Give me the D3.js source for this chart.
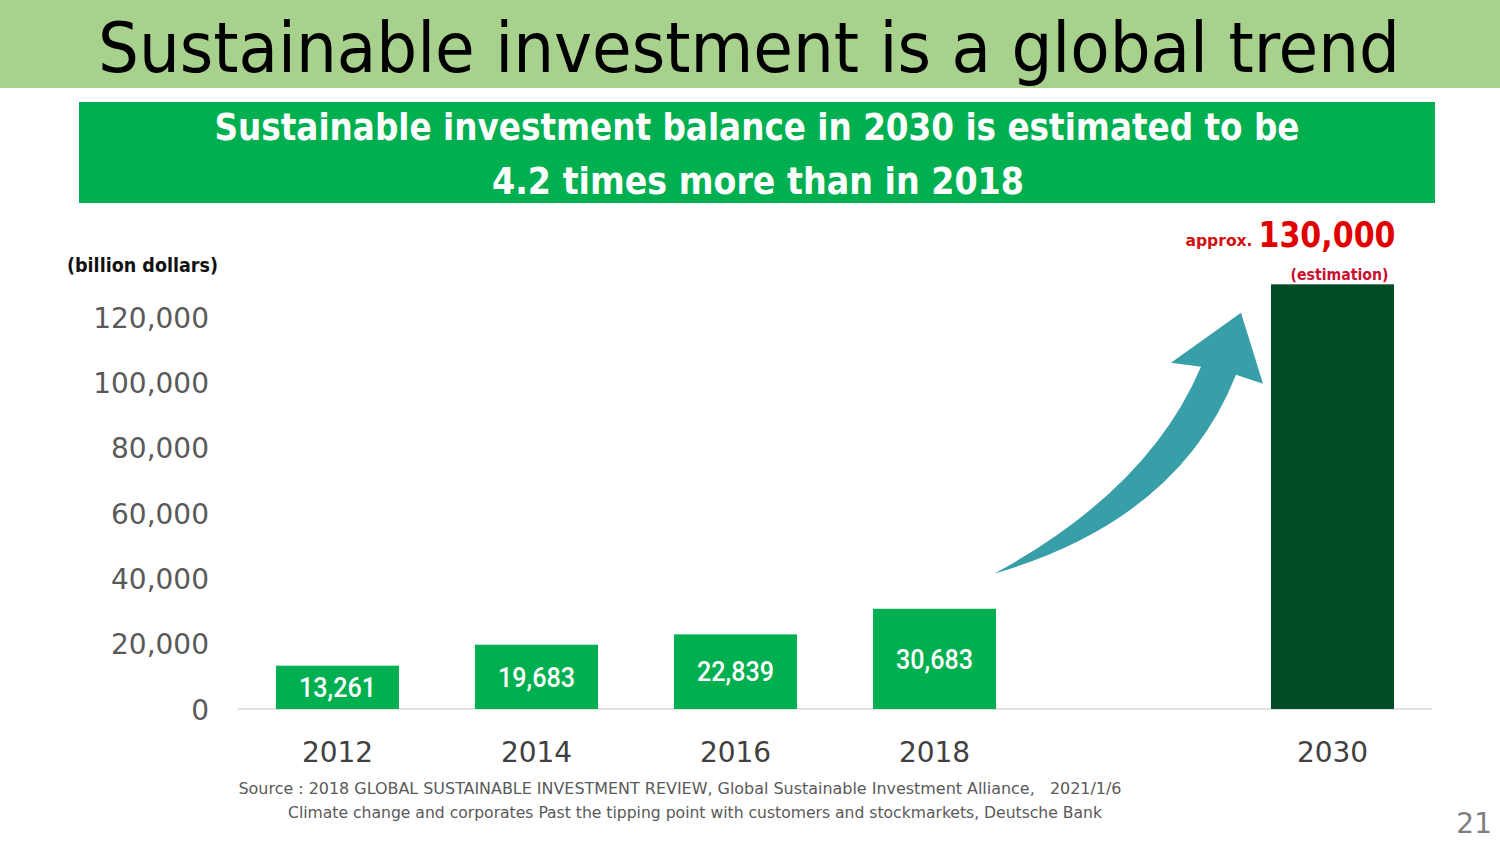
<!DOCTYPE html>
<html>
<head>
<meta charset="utf-8">
<script src="https://cdn.jsdelivr.net/npm/d3@7/dist/d3.min.js"></script>
<style>
  html, body { margin: 0; padding: 0; background: #fff; }
  svg { display: block; }
</style>
</head>
<body>
<svg id="chart" width="1500" height="844"></svg>
<script>
// datos del gráfico
var years = ["2012", "2014", "2016", "2018", "2030"];
var balances = [13261, 19683, 22839, 30683, 130000];
var estimated = [false, false, false, false, true];
var yTicks = [0, 20000, 40000, 60000, 80000, 100000, 120000];

var svg = d3.select("#chart");

// banda del título
svg.append("rect").attr("x", 0).attr("y", 0).attr("width", 1500).attr("height", 88).attr("fill", "#a9d18e");
svg.append("text")
  .attr("x", 749).attr("y", 72)
  .attr("text-anchor", "middle")
  .attr("font-family", "'Liberation Sans Narrow', 'DejaVu Sans Condensed', 'Noto Sans', sans-serif")
  .attr("font-size", 70)
  .attr("textLength", 1302).attr("lengthAdjust", "spacingAndGlyphs")
  .attr("fill", "#000")
  .text("Sustainable investment is a global trend");

// recuadro verde con el mensaje
svg.append("rect").attr("x", 79).attr("y", 102).attr("width", 1356).attr("height", 101).attr("fill", "#00b050");
svg.append("text")
  .attr("x", 757).attr("y", 140)
  .attr("text-anchor", "middle")
  .attr("font-family", "'Liberation Sans Narrow', 'DejaVu Sans Condensed', 'Noto Sans', sans-serif")
  .attr("font-weight", "bold").attr("font-size", 38)
  .attr("textLength", 1085).attr("lengthAdjust", "spacingAndGlyphs")
  .attr("fill", "#fff")
  .text("Sustainable investment balance in 2030 is estimated to be");
svg.append("text")
  .attr("x", 758).attr("y", 194)
  .attr("text-anchor", "middle")
  .attr("font-family", "'Liberation Sans Narrow', 'DejaVu Sans Condensed', 'Noto Sans', sans-serif")
  .attr("font-weight", "bold").attr("font-size", 38)
  .attr("textLength", 532).attr("lengthAdjust", "spacingAndGlyphs")
  .attr("fill", "#fff")
  .text("4.2 times more than in 2018");

// escalas
var slots = years.slice(0, 4).concat(["gap"]).concat(years.slice(4));
var x = d3.scaleBand().domain(slots).range([238, 1432]).paddingInner(0.382).paddingOuter(0.191);
var y = d3.scaleLinear().domain([0, 120000]).range([709, 317]);

// eje Y
var yAxis = svg.append("g")
  .attr("transform", "translate(238,0)")
  .call(d3.axisLeft(y).tickValues(yTicks).tickSize(0).tickPadding(29).tickFormat(d3.format(",")));
yAxis.select(".domain").remove();
yAxis.selectAll("text")
  .attr("font-family", "'DejaVu Sans', sans-serif")
  .attr("font-size", 28)
  .attr("fill", "#595959")
  .attr("dy", "0.36em");

// línea base
svg.append("line")
  .attr("x1", 238).attr("x2", 1432)
  .attr("y1", y(0)).attr("y2", y(0))
  .attr("stroke", "#d9d9d9").attr("stroke-width", 1.5);

// eje X
var xAxis = svg.append("g")
  .attr("transform", "translate(0," + y(0) + ")")
  .call(d3.axisBottom(x).tickValues(years).tickSize(0).tickPadding(33));
xAxis.select(".domain").remove();
xAxis.selectAll("text")
  .attr("font-family", "'DejaVu Sans', sans-serif")
  .attr("font-size", 28)
  .attr("fill", "#404040");

// barras
var data = years.map(function(d, i) { return { year: d, value: balances[i], est: estimated[i] }; });
svg.selectAll(".bar")
  .data(data)
  .enter()
  .append("rect")
  .attr("class", "bar")
  .attr("x", function(d) { return x(d.year); })
  .attr("y", function(d) { return y(d.value); })
  .attr("width", x.bandwidth())
  .attr("height", function(d) { return y(0) - y(d.value); })
  .attr("fill", function(d) { return d.est ? "#024d25" : "#00b050"; });

// etiquetas dentro de las barras
svg.selectAll(".bar-label")
  .data(data.filter(function(d) { return !d.est; }))
  .enter()
  .append("text")
  .attr("class", "bar-label")
  .attr("x", function(d) { return x(d.year) + x.bandwidth() / 2; })
  .attr("y", function(d) { return (y(d.value) + y(0)) / 2; })
  .attr("dy", "0.36em")
  .attr("text-anchor", "middle")
  .attr("font-family", "'Liberation Sans Narrow', 'Roboto', sans-serif")
  .attr("font-weight", 500)
  .attr("font-size", 27)
  .attr("textLength", 77).attr("lengthAdjust", "spacingAndGlyphs")
  .attr("fill", "#fff")
  .text(function(d) { return d3.format(",")(d.value); });

// unidad
svg.append("text")
  .attr("x", 142.5).attr("y", 272)
  .attr("text-anchor", "middle")
  .attr("font-family", "'DejaVu Sans', sans-serif")
  .attr("font-weight", "bold").attr("font-size", 19)
  .attr("textLength", 151).attr("lengthAdjust", "spacingAndGlyphs")
  .attr("fill", "#111")
  .text("(billion dollars)");

// anotación 2030
var last = data[data.length - 1];
var cx = x(last.year) + x.bandwidth() / 2;
svg.append("text")
  .attr("x", cx + 63).attr("y", y(last.value) - 37)
  .attr("text-anchor", "end")
  .attr("font-family", "'DejaVu Sans', sans-serif")
  .attr("font-weight", "bold").attr("font-size", 36)
  .attr("textLength", 137).attr("lengthAdjust", "spacingAndGlyphs")
  .attr("fill", "#e00000")
  .text(d3.format(",")(last.value));
svg.append("text")
  .attr("x", cx - 80).attr("y", y(last.value) - 38)
  .attr("text-anchor", "end")
  .attr("font-family", "'DejaVu Sans', sans-serif")
  .attr("font-weight", "bold").attr("font-size", 16)
  .attr("textLength", 67).attr("lengthAdjust", "spacingAndGlyphs")
  .attr("fill", "#d41010")
  .text("approx.");
svg.append("text")
  .attr("x", cx + 7).attr("y", y(last.value) - 4)
  .attr("text-anchor", "middle")
  .attr("font-family", "'DejaVu Sans', sans-serif")
  .attr("font-weight", "bold").attr("font-size", 15)
  .attr("textLength", 98).attr("lengthAdjust", "spacingAndGlyphs")
  .attr("fill", "#c8102e")
  .text("(estimation)");

// flecha curva (decorativa) anclada a la barra de 2018
var ax = x("2018") + x.bandwidth(), ay = y(balances[3]) - 35;
svg.append("path")
  .attr("transform", "translate(" + ax + "," + ay + ")")
  .attr("d", "M -2 0 Q 153 -84 205 -207 L 175 -211 L 245 -261 L 267 -190 L 240 -199 Q 183 -54 -2 0 Z")
  .attr("fill", "#389ea8");

// fuente
svg.append("text")
  .attr("x", 680).attr("y", 794)
  .attr("text-anchor", "middle")
  .attr("font-family", "'DejaVu Sans Condensed', 'DejaVu Sans', sans-serif")
  .attr("font-size", 16)
  .attr("textLength", 883).attr("lengthAdjust", "spacingAndGlyphs")
  .attr("fill", "#595959")
  .style("white-space", "pre")
  .text("Source : 2018 GLOBAL SUSTAINABLE INVESTMENT REVIEW, Global Sustainable Investment Alliance,   2021/1/6");
svg.append("text")
  .attr("x", 695).attr("y", 818)
  .attr("text-anchor", "middle")
  .attr("font-family", "'DejaVu Sans Condensed', 'DejaVu Sans', sans-serif")
  .attr("font-size", 16)
  .attr("textLength", 814).attr("lengthAdjust", "spacingAndGlyphs")
  .attr("fill", "#595959")
  .text("Climate change and corporates Past the tipping point with customers and stockmarkets, Deutsche Bank");

// número de página
svg.append("text")
  .attr("x", 1492).attr("y", 833)
  .attr("text-anchor", "end")
  .attr("font-family", "'DejaVu Sans', sans-serif")
  .attr("font-size", 28)
  .attr("fill", "#7f7f7f")
  .text("21");
</script>
</body>
</html>
